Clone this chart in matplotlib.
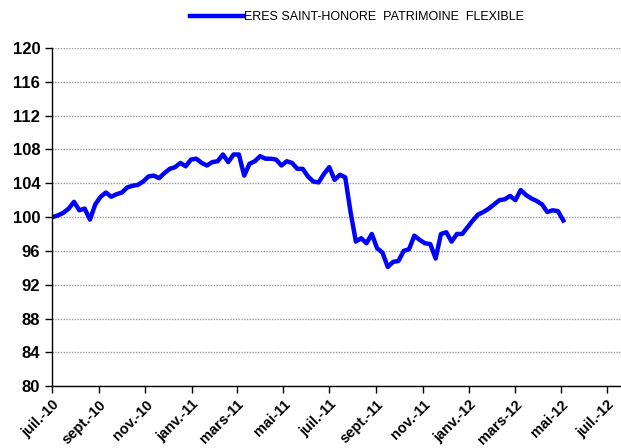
import numpy as np
import pandas as pd
import matplotlib
matplotlib.use("Agg")
import matplotlib.pyplot as plt
import matplotlib.dates as mdates

plt.rcParams['font.family'] = ['Liberation Sans', 'DejaVu Sans']

# weekly values, starting 2 July 2010
start_date = "2010-07-02"
values = [
    100.0, 100.2, 100.5, 101.0, 101.8, 100.8, 101.0, 99.7, 101.5, 102.4,
    102.9, 102.4, 102.7, 102.9, 103.5, 103.7, 103.8, 104.2, 104.8, 104.9,
    104.6, 105.2, 105.7, 105.9, 106.4, 106.0, 106.8, 106.9, 106.4, 106.1,
    106.5, 106.6, 107.4, 106.5, 107.4, 107.4, 104.9, 106.3, 106.6, 107.2,
    106.9, 106.9, 106.8, 106.1, 106.6, 106.4, 105.7, 105.7, 104.8, 104.2,
    104.1, 105.1, 105.9, 104.4, 105.0, 104.7, 100.6, 97.1, 97.5, 96.9,
    98.0, 96.3, 95.8, 94.1, 94.7, 94.8, 96.0, 96.2, 97.8, 97.3,
    96.9, 96.8, 95.1, 98.0, 98.2, 97.1, 98.0, 98.0, 98.8, 99.6,
    100.3, 100.6, 101.0, 101.5, 102.0, 102.1, 102.5, 102.0, 103.2, 102.6,
    102.2, 101.9, 101.5, 100.6, 100.8, 100.7, 99.6,
]
dates = pd.date_range(start_date, periods=len(values), freq="7D")

series_name = "ERES SAINT-HONORE  PATRIMOINE  FLEXIBLE"
month_names = {1: "janv.", 3: "mars", 5: "mai", 7: "juil.", 9: "sept.", 11: "nov."}
tick_dates = pd.date_range("2010-07-01", "2012-07-01", freq="2MS")
tick_labels = [f"{month_names[d.month]}-{d.strftime('%y')}" for d in tick_dates]
y_ticks = np.arange(80, 121, 4)

fig = plt.figure(figsize=(6.21, 4.48), dpi=100)
ax = fig.add_axes([0.0837, 0.138, 0.9163, 0.755])

ax.plot(dates, values, color="#0000ff", lw=3.2, solid_joinstyle="round",
        label=series_name)

ax.set_ylim(80, 120)
ax.set_yticks(y_ticks)
ax.set_yticklabels([str(v) for v in y_ticks], fontsize=12, fontweight="bold")
ax.set_xlim(pd.Timestamp("2010-07-01"), pd.Timestamp("2012-07-19"))
ax.set_xticks(tick_dates)
ax.set_xticklabels(tick_labels, rotation=45, ha="right", rotation_mode="anchor",
                   fontsize=10.5, fontweight="bold")

ax.grid(axis="y", linestyle=(0, (1, 1)), color="#999999", lw=1.0)
ax.set_axisbelow(True)
for s in ["top", "right"]:
    ax.spines[s].set_visible(False)
for s in ["left", "bottom"]:
    ax.spines[s].set_color("black")
    ax.spines[s].set_linewidth(1.0)
ax.tick_params(axis="both", direction="out", length=5, width=1, colors="black")
ax.tick_params(axis="x", pad=3)

fig.legend(loc="center", bbox_to_anchor=(0.575, 0.962), frameon=False,
           fontsize=9, handlelength=4.2, handletextpad=0.1)

fig.savefig("out.png", dpi=100)
